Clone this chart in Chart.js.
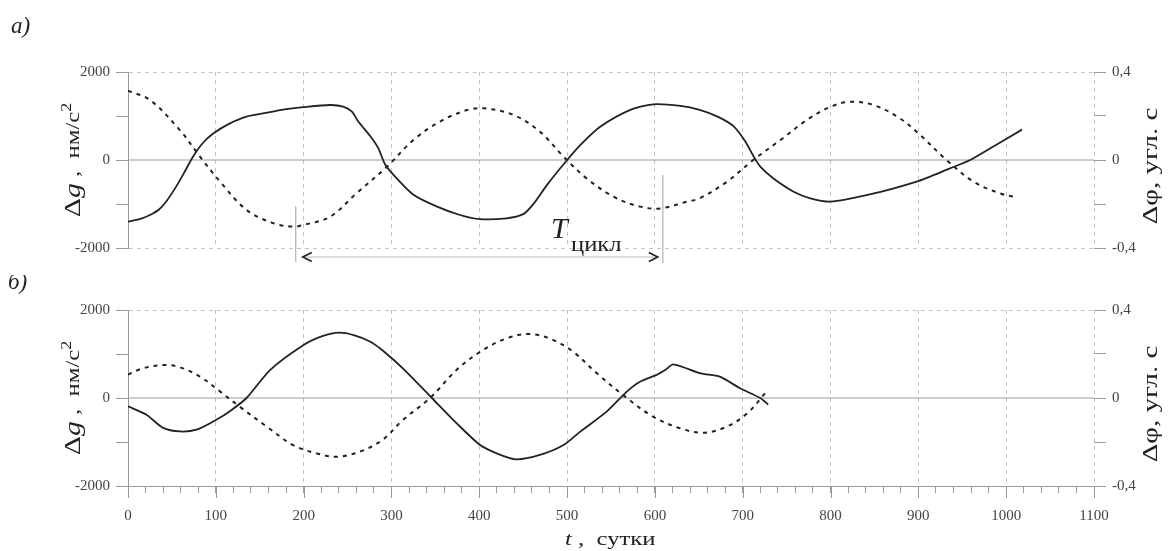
<!DOCTYPE html>
<html>
<head>
<meta charset="utf-8">
<script src="https://cdn.jsdelivr.net/npm/chart.js@4.4.1/dist/chart.umd.min.js"></script>
<style>
  html, body { margin: 0; padding: 0; background: #fff; }
  canvas { display: block; }
</style>
</head>
<body>
<canvas id="chartA" width="1169" height="275"></canvas>
<canvas id="chartB" width="1169" height="276"></canvas>
<script>
// panel а) - gravity (solid) and phase (dashed)
const daysGA = [0, 15, 25, 35, 44, 55, 65, 74, 85, 97, 115, 135, 160, 173, 200, 230, 245, 255, 262, 276,
  285, 293, 306, 325, 352, 378, 401, 431, 450, 462, 477, 500, 515, 538, 572, 598, 629, 651, 672, 690,
  703, 713, 720, 735, 758, 777, 800, 841, 898, 936, 959, 982, 1018];
const gA = [-1400, -1330, -1250, -1130, -930, -600, -250, 75, 380, 600, 820, 985, 1080, 1136, 1200, 1250, 1215, 1100, 880, 540,
  270, -110, -420, -790, -1060, -1250, -1345, -1325, -1230, -990, -570, 0, 340, 760, 1140, 1265, 1230, 1140, 980, 760,
  420, 60, -150, -420, -720, -870, -945, -800, -490, -190, 0, 265, 690];

const daysPA = [0, 25, 59, 82, 105, 135, 166, 188, 200, 230, 260, 295, 325, 355, 386, 405, 439, 469, 496, 522,
  553, 583, 606, 636, 651, 682, 712, 743, 773, 800, 822, 849, 879, 902, 932, 963, 993, 1012];
const phiA = [0.315, 0.273, 0.136, 0.015, -0.099, -0.227, -0.288, -0.303, -0.295, -0.258, -0.152, -0.03, 0.091, 0.174, 0.227, 0.235, 0.205, 0.129, 0.015, -0.083,
  -0.167, -0.212, -0.22, -0.19, -0.174, -0.099, 0, 0.091, 0.182, 0.242, 0.265, 0.25, 0.189, 0.114, 0, -0.099, -0.152, -0.17];

// panel б)
const daysGB = [0, 21, 40, 59, 78, 101, 116, 135, 162, 200, 222, 240, 257, 276, 290, 313, 346, 374, 401, 420,
  442, 469, 496, 515, 545, 568, 583, 602, 612, 621, 652, 674, 697, 720, 729];
const gB = [-190, -380, -680, -760, -720, -490, -300, 0, 640, 1205, 1410, 1485, 1430, 1280, 1080, 674, 0, -570, -1070, -1260,
  -1395, -1295, -1070, -765, -310, 145, 370, 525, 640, 765, 560, 485, 220, 0, -150];

const daysPB = [0, 17, 40, 59, 82, 105, 127, 158, 188, 215, 238, 264, 290, 313, 344, 374, 401, 431, 458, 484,
  507, 534, 568, 598, 629, 656, 682, 705, 727];
const phiB = [0.107, 0.135, 0.15, 0.14, 0.097, 0.029, -0.039, -0.13, -0.214, -0.252, -0.267, -0.244, -0.19, -0.1, 0, 0.127, 0.21, 0.271, 0.291, 0.264,
  0.21, 0.112, 0, -0.085, -0.138, -0.158, -0.13, -0.07, 0.029];

// cycle marker (days)
const cycleStart = 191;
const cycleEnd = 609;

const SERIF = '"Liberation Serif", "DejaVu Serif", serif';
const INK = '#222';
const GRID = '#c4c4c4';
const AXIS = '#9a9a9a';

function toPoints(xs, ys) {
  return xs.map((x, i) => ({ x: x, y: ys[i] }));
}

// draw text pieces one after another, optionally rotated and stretched
function drawRuns(ctx, runs, x, y, angle, align, stretch) {
  ctx.save();
  ctx.translate(x, y);
  ctx.rotate(angle);
  ctx.scale(stretch, 1);
  ctx.fillStyle = INK;
  ctx.textBaseline = 'middle';
  let total = 0;
  runs.forEach(r => { ctx.font = r.font; total += ctx.measureText(r.text).width; });
  let cx = align === 'center' ? -total / 2 : 0;
  runs.forEach(r => {
    ctx.font = r.font;
    ctx.fillText(r.text, cx, r.dy || 0);
    cx += ctx.measureText(r.text).width;
  });
  ctx.restore();
}

function drawZeroLine(chart) {
  const ctx = chart.ctx;
  const area = chart.chartArea;
  const y0 = chart.scales.y.getPixelForValue(0);
  ctx.save();
  ctx.strokeStyle = AXIS;
  ctx.lineWidth = 1;
  ctx.beginPath();
  ctx.moveTo(area.left, y0);
  ctx.lineTo(area.right, y0);
  ctx.stroke();
  ctx.restore();
}

function drawAxisTitles(chart) {
  const ctx = chart.ctx;
  const yc = chart.scales.y.getPixelForValue(0);
  drawRuns(ctx, [
    { text: 'Δ', font: '23px ' + SERIF },
    { text: 'g', font: 'italic 23px ' + SERIF },
    { text: ' ,  нм/с', font: '19px ' + SERIF },
    { text: '2', font: '14px ' + SERIF, dy: -7 }
  ], 74, yc, -Math.PI / 2, 'center', 1.3);
  drawRuns(ctx, [{ text: 'Δφ, угл. с', font: '20px ' + SERIF }], 1152, yc + 6, -Math.PI / 2, 'center', 1.45);
}

function arrowHead(ctx, x, y, dir) {
  ctx.beginPath();
  ctx.moveTo(x - dir * 9, y - 4.5);
  ctx.lineTo(x, y);
  ctx.lineTo(x - dir * 9, y + 4.5);
  ctx.stroke();
}

const decorA = {
  id: 'decorA',
  beforeDatasetsDraw(chart) { drawZeroLine(chart); },
  afterDraw(chart) {
    const ctx = chart.ctx;
    const xs = chart.scales.x;
    const ys = chart.scales.y;
    const bottom = chart.chartArea.bottom;
    drawRuns(ctx, [{ text: 'а)', font: 'italic 23px ' + SERIF }], 11, 27, 0, 'left', 1);
    drawAxisTitles(chart);

    // T cycle marker
    const x1 = xs.getPixelForValue(cycleStart);
    const x2 = xs.getPixelForValue(cycleEnd);
    ctx.save();
    ctx.strokeStyle = '#b0b0b0';
    ctx.lineWidth = 1.2;
    ctx.beginPath();
    ctx.moveTo(x1, ys.getPixelForValue(-1050));
    ctx.lineTo(x1, bottom + 14);
    ctx.moveTo(x2, ys.getPixelForValue(-340));
    ctx.lineTo(x2, bottom + 15);
    ctx.stroke();
    const ay = bottom + 9;
    ctx.strokeStyle = '#bbbbbb';
    ctx.beginPath();
    ctx.moveTo(x1 + 7, ay);
    ctx.lineTo(x2 - 5, ay);
    ctx.stroke();
    ctx.strokeStyle = INK;
    ctx.lineWidth = 1.6;
    arrowHead(ctx, x1 + 7, ay, -1);
    arrowHead(ctx, x2 - 5, ay, 1);
    ctx.restore();
    drawRuns(ctx, [{ text: 'T', font: 'italic 30px ' + SERIF }], 551, 230, 0, 'left', 1);
    drawRuns(ctx, [{ text: 'цикл', font: '22px ' + SERIF }], 571, 245, 0, 'left', 1.12);
  }
};

const decorB = {
  id: 'decorB',
  beforeDatasetsDraw(chart) { drawZeroLine(chart); },
  afterDraw(chart) {
    const ctx = chart.ctx;
    const xs = chart.scales.x;
    const bottom = chart.chartArea.bottom;
    drawRuns(ctx, [{ text: 'б)', font: 'italic 23px ' + SERIF }], 8, 8, 0, 'left', 1);
    drawAxisTitles(chart);
    // longer ticks at every 100 days
    ctx.save();
    ctx.strokeStyle = AXIS;
    ctx.lineWidth = 1;
    ctx.beginPath();
    for (let v = 0; v <= 1100; v += 100) {
      const px = Math.round(xs.getPixelForValue(v)) + 0.5;
      ctx.moveTo(px, bottom);
      ctx.lineTo(px, bottom + 12);
    }
    ctx.stroke();
    ctx.restore();
    drawRuns(ctx, [
      { text: 't', font: 'italic 19px ' + SERIF },
      { text: ' ,  сутки', font: '19px ' + SERIF }
    ], 565, 265, 0, 'left', 1.3);
  }
};

function makeConfig(gx, gy, px, py, showX, topPad, xHeight, plugin) {
  return {
    type: 'line',
    data: {
      datasets: [
        {
          label: 'Δg',
          data: toPoints(gx, gy),
          yAxisID: 'y',
          borderColor: INK,
          borderWidth: 1.8,
          pointRadius: 0,
          tension: 0.25,
          fill: false
        },
        {
          label: 'Δφ',
          data: toPoints(px, py),
          yAxisID: 'y2',
          borderColor: INK,
          borderWidth: 2,
          borderDash: [4, 5],
          pointRadius: 0,
          tension: 0.35,
          fill: false
        }
      ]
    },
    options: {
      responsive: false,
      animation: false,
      layout: { padding: { top: topPad, left: 0, right: 0, bottom: 0 } },
      plugins: {
        legend: { display: false },
        tooltip: { enabled: false }
      },
      scales: {
        x: {
          type: 'linear',
          min: 0,
          max: 1100,
          afterFit: s => { s.height = xHeight; },
          ticks: {
            display: showX,
            stepSize: showX ? 20 : 100,
            autoSkip: false,
            maxRotation: 0,
            padding: 14,
            color: '#444',
            font: { family: SERIF, size: 15 },
            callback: v => (v % 100 === 0 ? String(v) : '')
          },
          grid: {
            color: c => (c.tick && c.tick.value % 100 === 0 ? GRID : 'transparent'),
            tickColor: AXIS,
            drawTicks: showX,
            tickLength: 7
          },
          border: { display: showX, color: AXIS, width: 1, dash: [4, 4] }
        },
        y: {
          position: 'left',
          min: -2000,
          max: 2000,
          afterFit: s => { s.width = 128; },
          ticks: {
            stepSize: 1000,
            padding: 6,
            color: '#444',
            font: { family: SERIF, size: 15 },
            callback: v => (v % 2000 === 0 ? String(v) : '')
          },
          grid: {
            color: c => (c.tick && Math.abs(c.tick.value) === 2000 ? GRID : 'transparent'),
            tickColor: AXIS,
            tickLength: 12
          },
          border: { display: true, color: AXIS, width: 1, dash: [4, 4] }
        },
        y2: {
          position: 'right',
          min: -0.4,
          max: 0.4,
          afterFit: s => { s.width = 75; },
          ticks: {
            stepSize: 0.2,
            padding: 6,
            color: '#444',
            font: { family: SERIF, size: 15 },
            callback: v => {
              const k = Math.round(v * 10);
              if (k % 4 !== 0) return '';
              return k === 0 ? '0' : (k / 10).toFixed(1).replace('.', ',');
            }
          },
          grid: { drawOnChartArea: false, tickColor: AXIS, tickLength: 12 },
          border: { display: false }
        }
      }
    },
    plugins: [plugin]
  };
}

new Chart(document.getElementById('chartA'), makeConfig(daysGA, gA, daysPA, phiA, false, 72, 27, decorA));
new Chart(document.getElementById('chartB'), makeConfig(daysGB, gB, daysPB, phiB, true, 35, 65, decorB));
</script>
</body>
</html>
